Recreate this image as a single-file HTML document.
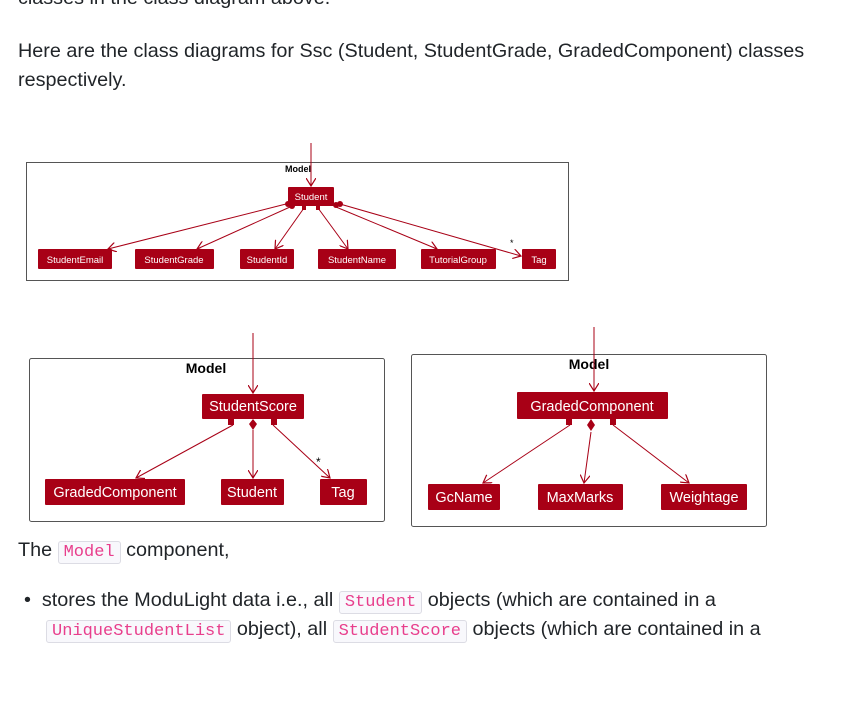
<!DOCTYPE html>
<html><head><style>
body{margin:0;width:864px;height:703px;overflow:hidden;background:#fff;font-family:"Liberation Sans",sans-serif;color:#212529;position:relative}
.t{position:absolute;left:18px;font-size:19.8px;white-space:nowrap}
code{font-family:"Liberation Mono",monospace;color:#e83e8c;background:#f8f8fc;border:1px solid #dcdce4;border-radius:3px;padding:1px 5px;font-size:17px}
svg{position:absolute;left:0;top:0}
</style></head><body>
<div class="t" style="top:-13px">classes in the class diagram above.</div>
<div class="t" style="top:40px">Here are the class diagrams for Ssc (Student, StudentGrade, GradedComponent) classes</div>
<div class="t" style="top:69px">respectively.</div>
<div class="t" style="top:539px">The <code>Model</code> component,</div>
<div class="t" style="top:589px;left:24px">•&nbsp;&nbsp;stores the ModuLight data i.e., all <code>Student</code> objects (which are contained in a</div>
<div class="t" style="top:618px;left:46px"><code>UniqueStudentList</code> object), all <code>StudentScore</code> objects (which are contained in a</div>
<svg width="864" height="703" font-family="Liberation Sans,sans-serif">
<defs><marker id="a" markerWidth="10" markerHeight="10" refX="8" refY="5" orient="auto" markerUnits="userSpaceOnUse"><path d="M0,0 L8,5 L0,10" fill="none" stroke="#a80016" stroke-width="1.2"/></marker></defs>
<g fill="none" stroke="#555" stroke-width="1">
<rect x="26.5" y="162.5" width="542" height="118"/>
<rect x="29.5" y="358.5" width="355" height="163" rx="2"/>
<rect x="411.5" y="354.5" width="355" height="172" rx="2"/>
</g>
<g font-weight="bold" fill="#000" text-anchor="middle">
<text x="298" y="172" font-size="9">Model</text>
<text x="206" y="373" font-size="14">Model</text>
<text x="589" y="369" font-size="14">Model</text>
</g>
<g stroke="#a80016" stroke-width="1" marker-end="url(#a)" fill="none">
<line x1="311" y1="143" x2="311" y2="186"/>
<line x1="286" y1="204" x2="108" y2="249"/>
<line x1="290" y1="207" x2="197" y2="249"/>
<line x1="304" y1="208" x2="275" y2="249"/>
<line x1="318" y1="208" x2="348" y2="249"/>
<line x1="336" y1="207" x2="437" y2="249"/>
<line x1="340" y1="204" x2="521" y2="256"/>
<line x1="253" y1="333" x2="253" y2="393"/>
<line x1="233" y1="425" x2="136" y2="478"/>
<line x1="253" y1="430" x2="253" y2="478"/>
<path d="M273,425 Q300,450 330,478"/>
<line x1="594" y1="327" x2="594" y2="391"/>
<line x1="570" y1="425" x2="483" y2="483"/>
<line x1="591" y1="432" x2="584" y2="483"/>
<line x1="613" y1="425" x2="689" y2="483"/>
</g>
<g fill="#a80016">
<circle cx="288" cy="204" r="3"/><circle cx="292" cy="206" r="3"/><rect x="302" y="206" width="4" height="4"/><rect x="316" y="206" width="4" height="4"/><circle cx="336" cy="205" r="3"/><circle cx="340" cy="204" r="3"/>
<rect x="228" y="419" width="6" height="6"/><path d="M253,419 l4,5 l-4,6 l-4,-6z"/><rect x="271" y="419" width="6" height="6"/>
<rect x="566" y="419" width="6" height="6"/><path d="M591,419 l4,6 l-4,6 l-4,-6z"/><rect x="610" y="419" width="6" height="6"/>
</g>
<g fill="#a80016">
<rect x="288" y="187" width="46" height="19" rx="1"/>
<rect x="38" y="249" width="74" height="20" rx="1"/>
<rect x="135" y="249" width="79" height="20" rx="1"/>
<rect x="240" y="249" width="54" height="20" rx="1"/>
<rect x="318" y="249" width="78" height="20" rx="1"/>
<rect x="421" y="249" width="75" height="20" rx="1"/>
<rect x="522" y="249" width="34" height="20" rx="1"/>
<rect x="202" y="394" width="102" height="25" rx="1"/>
<rect x="45" y="479" width="140" height="26" rx="1"/>
<rect x="221" y="479" width="63" height="26" rx="1"/>
<rect x="320" y="479" width="47" height="26" rx="1"/>
<rect x="517" y="392" width="151" height="27" rx="1"/>
<rect x="428" y="484" width="72" height="26" rx="1"/>
<rect x="538" y="484" width="85" height="26" rx="1"/>
<rect x="661" y="484" width="86" height="26" rx="1"/>
</g>
<g fill="#fff" text-anchor="middle">
<g font-size="9.5">
<text x="311" y="200">Student</text>
<text x="75" y="263">StudentEmail</text>
<text x="174" y="263">StudentGrade</text>
<text x="267" y="263">StudentId</text>
<text x="357" y="263">StudentName</text>
<text x="458" y="263">TutorialGroup</text>
<text x="539" y="263">Tag</text>
</g>
<g font-size="14.5">
<text x="253" y="411">StudentScore</text>
<text x="115" y="497">GradedComponent</text>
<text x="252" y="497">Student</text>
<text x="343" y="497">Tag</text>
<text x="592" y="411">GradedComponent</text>
<text x="464" y="502">GcName</text>
<text x="580" y="502">MaxMarks</text>
<text x="704" y="502">Weightage</text>
</g>
</g>
<text x="510" y="246" font-size="9" fill="#000">*</text>
<text x="316" y="466" font-size="12" fill="#000">*</text>
</svg>
</body></html>
